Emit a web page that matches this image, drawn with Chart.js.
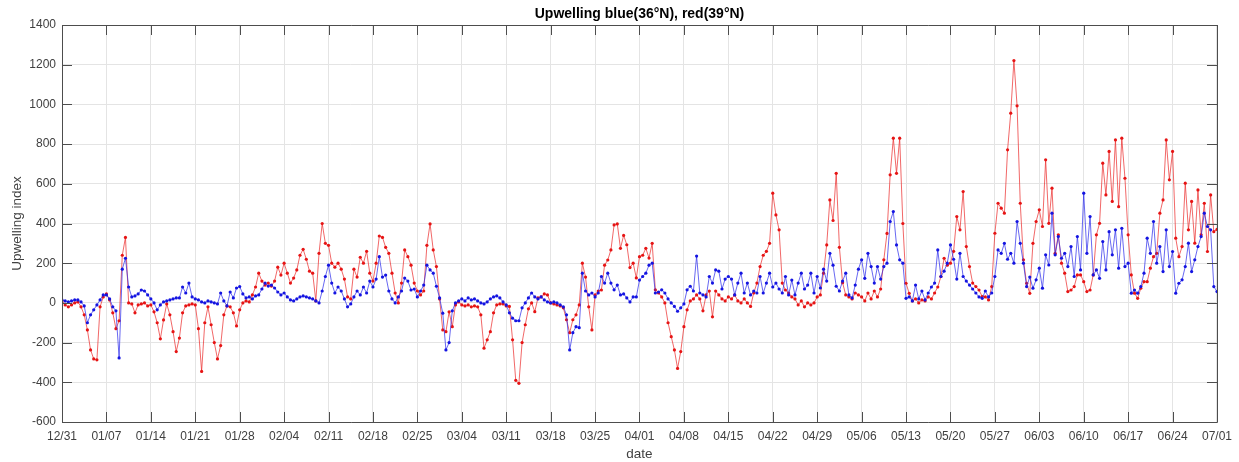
<!DOCTYPE html>
<html>
<head>
<meta charset="utf-8">
<script src="https://cdn.jsdelivr.net/npm/chart.js@4.4.1/dist/chart.umd.min.js"></script>
<style>
  html, body { margin: 0; padding: 0; background: #fff; }
  #chart { display: block; }
</style>
</head>
<body>
<canvas id="chart" width="1239" height="462"></canvas>
<script>
// two samples per day, starting 12/31 (day 0); one row per week
const blue36N = [
    15, 10, 5, 10, 15, 15, 5, -15, -100, -60, -35, -10, 15, 40,
    40, 20, -20, -40, -277, 170, 225, 80, 30, 35, 45, 65, 60, 40,
    20, 0, -35, -10, 5, 10, 15, 20, 25, 25, 80, 50, 100, 30,
    20, 15, 5, 0, 10, 5, 0, -5, 50, 10, -15, 55, 25, 75,
    82, 45, 25, 30, 20, 35, 40, 70, 100, 85, 90, 75, 55, 40,
    50, 30, 15, 10, 20, 30, 35, 30, 25, 20, 10, 0, 60, 133,
    190, 100, 50, 80, 60, 20, -20, -5, 30, 60, 40, 80, 50, 110,
    80, 120, 233, 130, 140, 60, 20, 0, 30, 60, 125, 110, 65, 70,
    30, 60, 90, 190, 166, 150, 84, 25, -52, -237, -200, -40, 0, 10,
    20, 10, 25, 15, 20, 10, 0, -5, 5, 20, 30, 35, 25, 5,
    -10, -50, -77, -90, -90, -25, 0, 25, 50, 30, 20, 30, 15, 5,
    0, 5, 0, -10, -20, -60, -237, -150, -120, -125, 150, 60, 40, 50,
    30, 50, 133, 100, 150, 100, 66, 90, 40, 45, 25, 5, 30, 30,
    115, 133, 150, 190, 200, 50, 55, 66, 50, 20, 0, -18, -42, -25,
    -5, 66, 84, 60, 236, 50, 40, 30, 133, 100, 166, 160, 70, 120,
    133, 120, 40, 100, 150, 50, 100, 40, 60, 50, 133, 50, 100, 150,
    80, 100, 70, 50, 133, 40, 115, 40, 100, 150, 70, 90, 150, 50,
    133, 75, 170, 110, 250, 190, 84, 60, 110, 150, 40, 25, 90, 170,
    217, 124, 250, 183, 100, 183, 120, 183, 200, 410, 460, 292, 217, 200,
    23, 30, 10, 90, 20, 60, 15, 50, 80, 100, 267, 133, 160, 200,
    292, 220, 120, 250, 133, 110, 90, 70, 50, 30, 23, 60, 30, 50,
    133, 267, 250, 300, 220, 250, 200, 410, 300, 200, 82, 130, 74, 116,
    175, 74, 242, 191, 452, 242, 334, 225, 250, 183, 284, 133, 334, 166,
    553, 250, 435, 141, 166, 124, 309, 166, 359, 242, 368, 175, 376, 183,
    200, 49, 65, 49, 82, 150, 326, 250, 410, 200, 284, 158, 368, 183,
    259, 49, 99, 116, 183, 301, 158, 217, 284, 334, 452, 385, 368, 82,
    57
];

const red39N = [
    10, -10, -20, -10, 0, 5, -20, -60, -136, -237, -282, -287, -20, 30,
    45, 15, -50, -130, -90, 240, 330, 0, -5, -50, -10, -5, 0, -15,
    -10, -45, -100, -181, -86, -5, -60, -145, -245, -177, -50, -15, -10, -5,
    -10, -130, -345, -100, -20, -110, -200, -282, -215, -60, -15, -20, -50, -116,
    -35, 0, 10, 5, 40, 80, 150, 110, 90, 100, 85, 110, 180, 140,
    200, 150, 100, 125, 166, 240, 270, 220, 160, 150, 10, 250, 400, 300,
    290, 200, 180, 200, 170, 120, 30, 20, 170, 130, 230, 200, 260, 150,
    110, 200, 337, 330, 280, 250, 150, 50, 0, 100, 267, 233, 190, 100,
    60, 40, 60, 290, 398, 267, 183, 20, -136, -145, -45, -120, -10, 5,
    -10, -15, -10, -20, -15, -20, -60, -228, -186, -145, -50, -10, -5, -5,
    -15, -18, -186, -390, -405, -200, -110, -30, 0, -44, 25, 30, 45, 40,
    0, -5, -10, -15, -25, -85, -150, -85, -60, -10, 200, 130, -20, -136,
    40, 60, 65, 190, 216, 267, 393, 398, 275, 340, 293, 178, 200, 126,
    233, 240, 275, 226, 300, 66, 50, 30, 0, -100, -170, -237, -330, -245,
    -120, -35, 10, 20, 40, 20, -40, 40, 60, -70, 60, 40, 20, 10,
    30, 20, 40, 10, 0, 20, 0, -18, 50, 100, 183, 240, 260, 300,
    553, 443, 368, 100, 65, 50, 30, 20, -10, 10, -20, 0, -10, 0,
    30, 40, 150, 292, 519, 415, 653, 280, 102, 40, 30, 20, 50, 40,
    30, 10, 50, 20, 60, 30, 70, 217, 350, 645, 830, 653, 830, 400,
    99, 48, 10, 20, 0, 15, 10, 30, 20, 50, 80, 133, 225, 190,
    200, 260, 435, 368, 561, 284, 183, 100, 82, 65, 32, 30, 15, 82,
    351, 502, 477, 452, 771, 956, 1221, 993, 502, 217, 99, 48, 300, 410,
    469, 385, 721, 401, 578, 250, 343, 200, 150, 57, 65, 82, 141, 141,
    107, 57, 65, 141, 343, 401, 704, 544, 763, 511, 821, 485, 830, 628,
    343, 141, 49, 23, 74, 107, 107, 175, 233, 250, 452, 519, 821, 620,
    763, 326, 233, 284, 603, 368, 511, 301, 569, 343, 502, 259, 544, 359,
    370
];

const dateLabels = [
    "12/31", "01/07", "01/14", "01/21", "01/28", "02/04", "02/11", "02/18", "02/25",
    "03/04", "03/11", "03/18", "03/25", "04/01", "04/08", "04/15", "04/22", "04/29",
    "05/06", "05/13", "05/20", "05/27", "06/03", "06/10", "06/17", "06/24", "07/01"
];
const dateTicks = dateLabels.map((_, i) => i * 7);

const yMin = -600, yMax = 1400, yStep = 200;

function toPoints(values) {
    return values.map((v, i) => ({ x: i / 2, y: v }));
}

// MATLAB-like box: dark frame on all four sides, ticks pointing inward
const boxFrame = {
    id: "boxFrame",
    afterDatasetsDraw(chart) {
        const { ctx, chartArea: a, scales } = chart;
        const len = 10;
        ctx.save();
        ctx.strokeStyle = "#4d4d4d";
        ctx.lineWidth = 1;
        ctx.beginPath();
        ctx.rect(Math.round(a.left) + 0.5, Math.round(a.top) + 0.5,
                 Math.round(a.right - a.left), Math.round(a.bottom - a.top));
        dateTicks.forEach(t => {
            const px = Math.round(scales.x.getPixelForValue(t)) + 0.5;
            ctx.moveTo(px, a.bottom); ctx.lineTo(px, a.bottom - len);
            ctx.moveTo(px, a.top); ctx.lineTo(px, a.top + len);
        });
        for (let v = yMin; v <= yMax; v += yStep) {
            const py = Math.round(scales.y.getPixelForValue(v)) + 0.5;
            ctx.moveTo(a.left, py); ctx.lineTo(a.left + len, py);
            ctx.moveTo(a.right, py); ctx.lineTo(a.right - len, py);
        }
        ctx.stroke();
        ctx.restore();
    }
};

const fontFamily = "'Liberation Sans', Arial, sans-serif";
const tickFont = { family: fontFamily, size: 12 };

new Chart(document.getElementById("chart"), {
    type: "line",
    data: {
        datasets: [
            {
                label: "blue(36N)",
                data: toPoints(blue36N),
                borderColor: "rgba(40, 40, 235, 0.7)",
                backgroundColor: "rgb(20, 20, 225)",
                borderWidth: 1,
                pointRadius: 1.6,
                pointBorderWidth: 0,
                pointBackgroundColor: "rgb(20, 20, 225)",
                tension: 0
            },
            {
                label: "red(39N)",
                data: toPoints(red39N),
                borderColor: "rgba(235, 40, 40, 0.7)",
                backgroundColor: "rgb(230, 20, 20)",
                borderWidth: 1,
                pointRadius: 1.6,
                pointBorderWidth: 0,
                pointBackgroundColor: "rgb(230, 20, 20)",
                tension: 0
            }
        ]
    },
    options: {
        responsive: false,
        animation: false,
        devicePixelRatio: 1,
        layout: { padding: { left: 0, right: 17, top: 0, bottom: 0 } },
        plugins: {
            legend: { display: false },
            tooltip: { enabled: false },
            title: {
                display: true,
                fullSize: false,
                text: "Upwelling blue(36\u00B0N), red(39\u00B0N)",
                color: "#000",
                font: { family: fontFamily, size: 14, weight: "bold" },
                padding: { top: 6, bottom: 2.2 }
            }
        },
        scales: {
            x: {
                type: "linear",
                min: 0,
                max: 182,
                afterFit: s => { s.height = 40; },
                afterBuildTicks: s => { s.ticks = dateTicks.map(v => ({ value: v })); },
                ticks: {
                    autoSkip: false,
                    maxRotation: 0,
                    padding: 7,
                    color: "#404040",
                    font: tickFont,
                    callback: (v, i) => dateLabels[i]
                },
                grid: { color: "#e4e4e4", drawTicks: false },
                border: { display: false },
                title: {
                    display: true,
                    text: "date",
                    color: "#404040",
                    font: { family: fontFamily, size: 13.5 },
                    padding: { top: 0, bottom: 0 }
                }
            },
            y: {
                min: yMin,
                max: yMax,
                afterFit: s => { s.width = 62; },
                ticks: {
                    stepSize: yStep,
                    padding: 6,
                    color: "#404040",
                    font: tickFont,
                    callback: v => String(v)
                },
                grid: { color: "#e4e4e4", drawTicks: false },
                border: { display: false },
                title: {
                    display: true,
                    text: "Upwelling index",
                    color: "#404040",
                    font: { family: fontFamily, size: 13.5 },
                    padding: { top: 9, bottom: 0 }
                }
            }
        }
    },
    plugins: [boxFrame]
});
</script>
</body>
</html>
